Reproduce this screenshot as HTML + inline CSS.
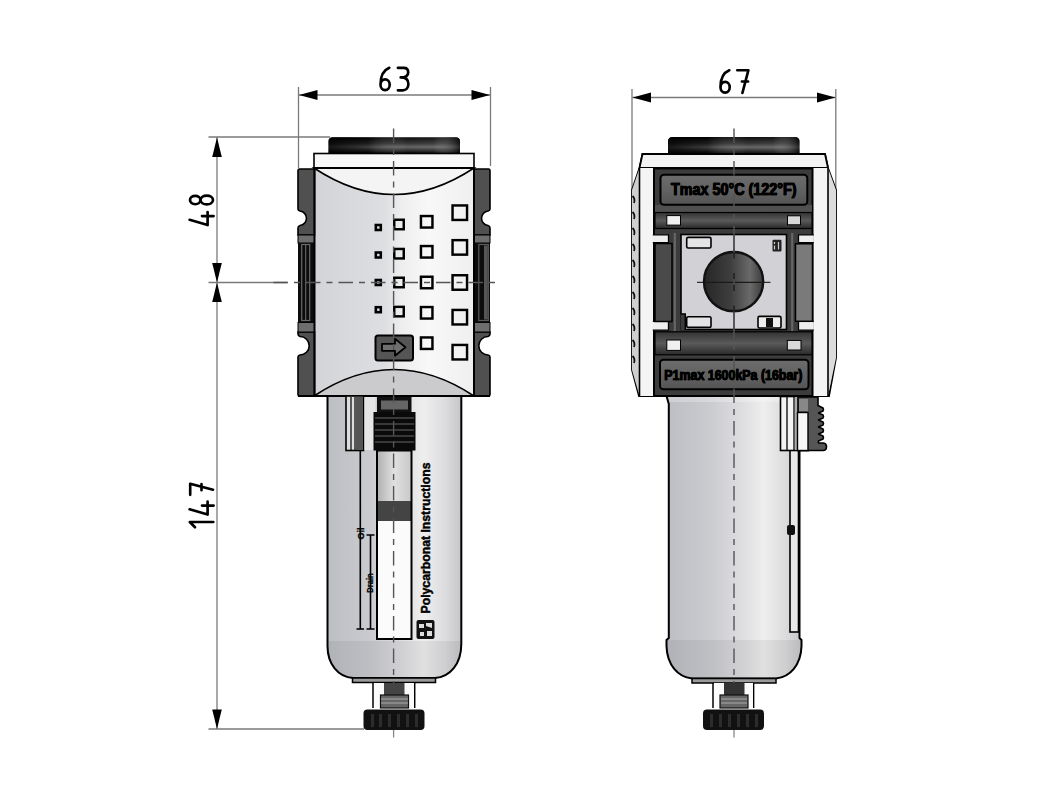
<!DOCTYPE html>
<html><head><meta charset="utf-8"><style>
html,body{margin:0;padding:0;background:#fff;}
body{width:1051px;height:803px;overflow:hidden;font-family:"Liberation Sans",sans-serif;}
svg{display:block;}
</style></head><body>
<svg width="1051" height="803" viewBox="0 0 1051 803">
<defs>
<linearGradient id="capG" x1="0" y1="0" x2="0" y2="1">
 <stop offset="0" stop-color="#000"/><stop offset="0.15" stop-color="#111"/><stop offset="0.4" stop-color="#2e2e2e"/><stop offset="0.62" stop-color="#5e5e5e"/><stop offset="0.82" stop-color="#2a2a2a"/><stop offset="1" stop-color="#000"/>
</linearGradient>
<linearGradient id="capH" x1="0" y1="0" x2="1" y2="0">
 <stop offset="0" stop-color="#000" stop-opacity="0.75"/><stop offset="0.3" stop-color="#000" stop-opacity="0.35"/><stop offset="0.6" stop-color="#fff" stop-opacity="0.05"/><stop offset="0.8" stop-color="#fff" stop-opacity="0.08"/><stop offset="1" stop-color="#000" stop-opacity="0.6"/>
</linearGradient>
<linearGradient id="panelG" x1="0" y1="0" x2="1" y2="0">
 <stop offset="0" stop-color="#d2d4d7"/><stop offset="0.44" stop-color="#dddee1"/><stop offset="0.55" stop-color="#eeeeef"/><stop offset="0.72" stop-color="#f8f8f8"/><stop offset="1" stop-color="#efefef"/>
</linearGradient>
<linearGradient id="bowlG" x1="0" y1="0" x2="1" y2="0">
 <stop offset="0" stop-color="#bcbec3"/><stop offset="0.3" stop-color="#c9cace"/><stop offset="0.55" stop-color="#dddde0"/><stop offset="0.72" stop-color="#eeeeee"/><stop offset="0.88" stop-color="#dcdcde"/><stop offset="1" stop-color="#c6c6c8"/>
</linearGradient>
<linearGradient id="tubeG" x1="0" y1="0" x2="1" y2="0">
 <stop offset="0" stop-color="#b0b0b0"/><stop offset="0.5" stop-color="#e0e0e0"/><stop offset="1" stop-color="#c8c8c8"/>
</linearGradient>
<linearGradient id="portG" x1="0" y1="0" x2="1" y2="0">
 <stop offset="0" stop-color="#262626"/><stop offset="0.45" stop-color="#3e3e3e"/><stop offset="0.78" stop-color="#6a6a6a"/><stop offset="1" stop-color="#3a3a3a"/>
</linearGradient>
<linearGradient id="labelG" x1="0" y1="0" x2="0" y2="1">
 <stop offset="0" stop-color="#6c6c6c"/><stop offset="0.5" stop-color="#626262"/><stop offset="1" stop-color="#545454"/>
</linearGradient>
<linearGradient id="barG" x1="0" y1="0" x2="0" y2="1">
 <stop offset="0" stop-color="#333"/><stop offset="0.5" stop-color="#5a5a5a"/><stop offset="1" stop-color="#2a2a2a"/>
</linearGradient>
</defs>
<line x1="298.5" y1="87" x2="298.5" y2="168" stroke="#7a7a7a" stroke-width="1.3" />
<line x1="490.5" y1="87" x2="490.5" y2="166" stroke="#7a7a7a" stroke-width="1.3" />
<line x1="299" y1="95" x2="490" y2="95" stroke="#7a7a7a" stroke-width="1.3" />
<path d="M299,95 L317.5,90.1 L317.5,99.9 Z" fill="#000"/>
<path d="M490,95 L471.5,99.9 L471.5,90.1 Z" fill="#000"/>
<g transform="translate(378.5,66.5)" fill="none" stroke="#000" stroke-width="2.65" stroke-linecap="round" stroke-linejoin="round"><path transform="translate(0,0)" d="M10.8,1.3 C5.5,3.5 2,9.5 2,18 M6.6,12.8 C4,12.8 2,15 2,18.2 C2,21.4 4,23.6 6.6,23.6 C9.2,23.6 11.2,21.4 11.2,18.2 C11.2,15 9.2,12.8 6.6,12.8 Z"/><path transform="translate(17.7,0)" d="M1.7,1.3 H7.5 C10.5,1.3 12,3.3 12,5.9 C12,8.9 9.8,10.9 4.5,10.9 C9.5,10.9 12.2,13.5 12.2,17.5 C12.2,21.5 9.8,23.8 6.5,23.8 H1.7"/></g>
<line x1="208.5" y1="137" x2="330" y2="137" stroke="#7a7a7a" stroke-width="1.3" />
<line x1="208.5" y1="729" x2="364" y2="729" stroke="#7a7a7a" stroke-width="1.3" />
<line x1="217" y1="137" x2="217" y2="729" stroke="#7a7a7a" stroke-width="1.3" />
<path d="M217,137.5 L221.8,157.0 L212.2,157.0 Z" fill="#000"/>
<path d="M217,282.5 L212.2,263.0 L221.8,263.0 Z" fill="#000"/>
<path d="M217,282.5 L221.8,302.0 L212.2,302.0 Z" fill="#000"/>
<path d="M217,729 L212.2,709.5 L221.8,709.5 Z" fill="#000"/>
<g transform="translate(189,226) rotate(-90)" fill="none" stroke="#000" stroke-width="2.65" stroke-linecap="round" stroke-linejoin="round"><path transform="translate(0,0)" d="M6.2,0.6 L0.9,18.6 H14 M9.9,13 V24.6"/><path transform="translate(20,0)" d="M6,1 C3.6,1 1.8,3.3 1.8,6.2 C1.8,9.1 3.6,11.4 6,11.4 C8.4,11.4 10.2,9.1 10.2,6.2 C10.2,3.3 8.4,1 6,1 Z M6,11.6 C3.4,11.6 1.6,14.4 1.6,17.8 C1.6,21.2 3.4,24 6,24 C8.6,24 10.4,21.2 10.4,17.8 C10.4,14.4 8.6,11.6 6,11.6 Z"/></g>
<g transform="translate(189,529) rotate(-90)" fill="none" stroke="#000" stroke-width="2.65" stroke-linecap="round" stroke-linejoin="round"><path transform="translate(0,0)" d="M1.7,6 L7,0.8 V24.3"/><path transform="translate(13.5,0)" d="M6.2,0.6 L0.9,18.6 H14 M9.9,13 V24.6"/><path transform="translate(33,0)" d="M1.2,1.2 H12.3 L6.3,24 M5.8,12.5 H12"/></g>
<path d="M328.5,153 V141.5 Q328.5,137.3 333,137.3 H455.5 Q460,137.3 460,141.5 V153 Z" fill="url(#capG)"/>
<path d="M328.5,153 V141.5 Q328.5,137.3 333,137.3 H455.5 Q460,137.3 460,141.5 V153 Z" fill="url(#capH)"/>
<rect x="314" y="153.5" width="160" height="14.5" fill="#f8f8f8" stroke="#000" stroke-width="1.6"/>
<rect x="314" y="168" width="160" height="228" fill="url(#panelG)"/>
<path d="M314,168 Q394,221 474,168 Z" fill="#f4f4f4" stroke="#000" stroke-width="1.5"/>
<path d="M314,396 Q394,343 474,396 Z" fill="#cbcbcd" stroke="#000" stroke-width="1.5"/>
<line x1="314" y1="168" x2="474" y2="168" stroke="#000" stroke-width="2.2" />
<path d="M314.5,169 H299.5 Q298,169 298,170.5 V209 Q298,210.5 300,211 A7.3,7.3 0 0 1 300,225.5 Q298,226 298,228 V235 H314.5 Z" fill="#505050" stroke="#000" stroke-width="1.6"/>
<path d="M314.5,396 H299.5 Q298,396 298,394.5 V357 Q298,355.5 300,355 A7.3,7.3 0 0 0 300,336.5 Q298,336 298,334 V332 H314.5 Z" fill="#505050" stroke="#000" stroke-width="1.6"/>
<rect x="298" y="235" width="16.5" height="8" fill="#6e6e6e" stroke="#000" stroke-width="1"/>
<rect x="298" y="322.5" width="16.5" height="9.5" fill="#6e6e6e" stroke="#000" stroke-width="1"/>
<rect x="298" y="243" width="16.5" height="79.5" fill="#0c0c0c"/>
<rect x="301.7" y="244.5" width="8" height="76" fill="none" stroke="#6a6a6a" stroke-width="1.2"/>
<line x1="305.7" y1="245" x2="305.7" y2="320" stroke="#6a6a6a" stroke-width="1.1" />
<path d="M474,169 H488.5 Q490,169 490,170.5 V209 Q490,210.5 488,211 A7.3,7.3 0 0 0 488,225.5 Q490,226 490,228 V235 H474 Z" fill="#505050" stroke="#000" stroke-width="1.6"/>
<path d="M474,396 H488.5 Q490,396 490,394.5 V357 Q490,355.5 488,355 A7.3,7.3 0 0 1 488,336.5 Q490,336 490,334 V332 H474 Z" fill="#505050" stroke="#000" stroke-width="1.6"/>
<rect x="474" y="235" width="16" height="8" fill="#6e6e6e" stroke="#000" stroke-width="1"/>
<rect x="474" y="322.5" width="16" height="9.5" fill="#6e6e6e" stroke="#000" stroke-width="1"/>
<rect x="474" y="243" width="16" height="79.5" fill="#0c0c0c"/>
<rect x="478.8" y="244.5" width="9.5" height="76" fill="#0c0c0c" stroke="#5a5a5a" stroke-width="1.2"/>
<rect x="484" y="245.5" width="3.8" height="74" fill="#555"/>
<line x1="314.5" y1="168" x2="314.5" y2="396" stroke="#000" stroke-width="2" />
<line x1="474" y1="168" x2="474" y2="396" stroke="#000" stroke-width="2" />
<line x1="298" y1="396" x2="490" y2="396" stroke="#000" stroke-width="2" />
<rect x="375.8" y="225.0" width="5" height="5" fill="none" stroke="#000" stroke-width="2.55"/>
<rect x="394.25" y="219.75" width="9.5" height="9.5" fill="none" stroke="#000" stroke-width="2.45"/>
<rect x="420.95" y="216.05" width="11.5" height="11.5" fill="none" stroke="#000" stroke-width="2.45"/>
<rect x="452.55" y="205.45" width="14.5" height="14.5" fill="none" stroke="#000" stroke-width="2.45"/>
<rect x="375.8" y="252.5" width="5" height="5" fill="none" stroke="#000" stroke-width="2.55"/>
<rect x="394.25" y="248.95" width="9.5" height="9.5" fill="none" stroke="#000" stroke-width="2.45"/>
<rect x="420.95" y="246.05" width="11.5" height="11.5" fill="none" stroke="#000" stroke-width="2.45"/>
<rect x="452.55" y="240.15" width="14.5" height="14.5" fill="none" stroke="#000" stroke-width="2.45"/>
<rect x="375.8" y="280.0" width="5" height="5" fill="none" stroke="#000" stroke-width="2.55"/>
<rect x="394.25" y="277.75" width="9.5" height="9.5" fill="none" stroke="#000" stroke-width="2.45"/>
<rect x="420.95" y="276.75" width="11.5" height="11.5" fill="none" stroke="#000" stroke-width="2.45"/>
<rect x="452.55" y="275.25" width="14.5" height="14.5" fill="none" stroke="#000" stroke-width="2.45"/>
<rect x="375.8" y="307.2" width="5" height="5" fill="none" stroke="#000" stroke-width="2.55"/>
<rect x="394.25" y="306.85" width="9.5" height="9.5" fill="none" stroke="#000" stroke-width="2.45"/>
<rect x="420.95" y="307.05" width="11.5" height="11.5" fill="none" stroke="#000" stroke-width="2.45"/>
<rect x="452.55" y="309.95" width="14.5" height="14.5" fill="none" stroke="#000" stroke-width="2.45"/>
<rect x="420.95" y="337.45" width="11.5" height="11.5" fill="none" stroke="#000" stroke-width="2.45"/>
<rect x="452.55" y="344.95" width="14.5" height="14.5" fill="none" stroke="#000" stroke-width="2.45"/>
<rect x="375.5" y="335.5" width="37.5" height="25" rx="2.5" fill="#555" stroke="#000" stroke-width="2"/>
<path d="M382,343.8 H395 V338.8 L405.5,347.3 L395,355.8 V350.8 H382 Z" fill="#6e6e6e" stroke="#000" stroke-width="1.8" stroke-linejoin="round"/>
<line x1="208.5" y1="282.5" x2="287" y2="282.5" stroke="#7a7a7a" stroke-width="1.3" />
<line x1="273.5" y1="282.5" x2="497" y2="282.5" stroke="#555" stroke-width="1.4" stroke-dasharray="14.5 6 6 6"/>
<clipPath id="bclipL"><path d="M327.5,396 V646 C327.5,664 338,677 353,678 H435 C450,677 461.3,664 461.3,644 V396 Z"/></clipPath>
<path d="M327.5,396 V646 C327.5,664 338,677 353,678 H435 C450,677 461.3,664 461.3,644 V396 Z" fill="url(#bowlG)"/>
<rect x="320" y="641" width="150" height="40" fill="#000" opacity="0.06" clip-path="url(#bclipL)"/>
<path d="M327.5,396 V646 C327.5,664 338,677 353,678 H435 C450,677 461.3,664 461.3,644 V396 Z" fill="none" stroke="#000" stroke-width="2"/>
<path d="M352.5,678 H435.5 V682.5 H352.5 Z" fill="#9a9a9a" stroke="#000" stroke-width="1.5"/>
<rect x="346" y="396" width="17.5" height="54.5" fill="#ddd" stroke="#000" stroke-width="1.6"/>
<line x1="351" y1="397" x2="351" y2="450" stroke="#000" stroke-width="1.2" />
<line x1="355" y1="397" x2="355" y2="450" stroke="#000" stroke-width="1.2" />
<rect x="356" y="397" width="7" height="53" fill="#555"/>
<line x1="360.3" y1="450" x2="360.3" y2="629" stroke="#000" stroke-width="1.6" />
<line x1="370.5" y1="535" x2="370.5" y2="629" stroke="#000" stroke-width="1.6" />
<path d="M366.5,535 H374.5 M366.5,629 H374.5 M356.5,629 H364" stroke="#000" stroke-width="1.6"/>
<rect x="364.5" y="397" width="11" height="53" fill="#e6e6e6" />
<rect x="377" y="450.5" width="34.5" height="50.5" fill="url(#tubeG)"/>
<rect x="377" y="501" width="34.5" height="20" fill="#444"/>
<rect x="377" y="521" width="34.5" height="118" fill="#fbfbfb"/>
<rect x="377" y="450.5" width="34.5" height="188.5" fill="none" stroke="#000" stroke-width="2"/>
<rect x="377" y="397" width="34.5" height="15.5" fill="#111"/>
<rect x="381" y="400.5" width="27" height="9" fill="#666"/>
<rect x="373.5" y="412" width="42" height="38.5" fill="#0a0a0a"/>
<line x1="375" y1="418" x2="414" y2="418" stroke="#666" stroke-width="1.0" />
<line x1="375" y1="424" x2="414" y2="424" stroke="#666" stroke-width="1.0" />
<line x1="375" y1="430" x2="414" y2="430" stroke="#666" stroke-width="1.0" />
<line x1="375" y1="436" x2="414" y2="436" stroke="#666" stroke-width="1.0" />
<line x1="375" y1="442" x2="414" y2="442" stroke="#666" stroke-width="1.0" />
<text transform="translate(430.3,613.5) rotate(-90)" font-family="Liberation Sans, sans-serif" font-weight="bold" font-size="12.3" textLength="151" lengthAdjust="spacingAndGlyphs" fill="#000" stroke="#000" stroke-width="0.45">Polycarbonat Instructions</text>
<text transform="translate(363.5,539.5) rotate(-90)" font-family="Liberation Sans, sans-serif" font-weight="bold" font-size="8.5" textLength="12" lengthAdjust="spacingAndGlyphs" fill="#000" stroke="#000" stroke-width="0.3">Oil</text>
<text transform="translate(372.8,592.8) rotate(-90)" font-family="Liberation Sans, sans-serif" font-weight="bold" font-size="9" textLength="19.5" lengthAdjust="spacingAndGlyphs" fill="#000" stroke="#000" stroke-width="0.3">Drain</text>
<rect x="416.5" y="620" width="18" height="19" rx="2" fill="#111"/>
<path d="M419,624 h5 v4 h-5z M426,623 l6,0 l0,5 l-6,-2z M420,632 h4 v4 h-4z M427,631 h5 v5 h-5z" fill="#ddd"/>
<line x1="393.6" y1="128.5" x2="393.6" y2="730" stroke="#555" stroke-width="1.4" stroke-dasharray="14.5 6 6 6"/>
<line x1="393.6" y1="729" x2="393.6" y2="737.5" stroke="#888" stroke-width="1.3" />
<line x1="373" y1="683" x2="373" y2="708" stroke="#000" stroke-width="1.5" />
<line x1="414.7" y1="683" x2="414.7" y2="708" stroke="#000" stroke-width="1.5" />
<rect x="374" y="683" width="40" height="25" fill="#fbfbfb"/>
<rect x="384" y="683" width="20.5" height="12" fill="#444"/>
<rect x="380.5" y="695" width="28" height="13" fill="#666" stroke="#111" stroke-width="1.2"/>
<line x1="381" y1="699" x2="408" y2="699" stroke="#aaa" stroke-width="1" />
<line x1="381" y1="703" x2="408" y2="703" stroke="#aaa" stroke-width="1" />
<rect x="363.5" y="709.5" width="61" height="20.5" rx="4" fill="#111"/>
<rect x="371" y="714" width="3" height="13" fill="#2c2c2c"/>
<rect x="379" y="714" width="3" height="13" fill="#2c2c2c"/>
<rect x="388" y="714" width="3" height="13" fill="#2c2c2c"/>
<rect x="397" y="714" width="3" height="13" fill="#2c2c2c"/>
<rect x="406" y="714" width="3" height="13" fill="#2c2c2c"/>
<rect x="415" y="714" width="3" height="13" fill="#2c2c2c"/>
<line x1="632" y1="89" x2="632" y2="190" stroke="#7a7a7a" stroke-width="1.3" />
<line x1="835.8" y1="89" x2="835.8" y2="190" stroke="#7a7a7a" stroke-width="1.3" />
<line x1="632.5" y1="97.5" x2="835.5" y2="97.5" stroke="#7a7a7a" stroke-width="1.3" />
<path d="M632.5,97.5 L651.0,92.6 L651.0,102.4 Z" fill="#000"/>
<path d="M835.5,97.5 L817.0,102.4 L817.0,92.6 Z" fill="#000"/>
<g transform="translate(718.5,69)" fill="none" stroke="#000" stroke-width="2.65" stroke-linecap="round" stroke-linejoin="round"><path transform="translate(0,0)" d="M10.8,1.3 C5.5,3.5 2,9.5 2,18 M6.6,12.8 C4,12.8 2,15 2,18.2 C2,21.4 4,23.6 6.6,23.6 C9.2,23.6 11.2,21.4 11.2,18.2 C11.2,15 9.2,12.8 6.6,12.8 Z"/><path transform="translate(17.6,0)" d="M1.2,1.2 H12.3 L6.3,24 M5.8,12.5 H12"/></g>
<path d="M668,153.5 V141.5 Q668,137 672.5,137 H795 Q799.5,137 799.5,141.5 V153.5 Z" fill="url(#capG)"/>
<path d="M668,153.5 V141.5 Q668,137 672.5,137 H795 Q799.5,137 799.5,141.5 V153.5 Z" fill="url(#capH)"/>
<path d="M642.5,154 H825 L828,168 L836,190 V358 L829,396 H639 L632,370 V190 L639.5,168 Z" fill="#d8d8d8" stroke="#000" stroke-width="1.8"/>
<path d="M642.5,154 H825 L828,168 H639.5 Z" fill="#f2f2f2" stroke="#000" stroke-width="1.8"/>
<rect x="639.5" y="168" width="188.5" height="228" fill="#f4f4f4"/>
<path d="M632,190 L639.5,168 V396 L632,370 Z" fill="#cfcfcf"/>
<path d="M632.5,196 Q635.5,199 634,203" fill="none" stroke="#111" stroke-width="1.8"/>
<path d="M632.5,212 Q635.5,215 634,219" fill="none" stroke="#111" stroke-width="1.8"/>
<path d="M632.5,228 Q635.5,231 634,235" fill="none" stroke="#111" stroke-width="1.8"/>
<path d="M632.5,244 Q635.5,247 634,251" fill="none" stroke="#111" stroke-width="1.8"/>
<path d="M632.5,260 Q635.5,263 634,267" fill="none" stroke="#111" stroke-width="1.8"/>
<path d="M632.5,276 Q635.5,279 634,283" fill="none" stroke="#111" stroke-width="1.8"/>
<path d="M632.5,292 Q635.5,295 634,299" fill="none" stroke="#111" stroke-width="1.8"/>
<path d="M632.5,308 Q635.5,311 634,315" fill="none" stroke="#111" stroke-width="1.8"/>
<path d="M632.5,324 Q635.5,327 634,331" fill="none" stroke="#111" stroke-width="1.8"/>
<path d="M632.5,340 Q635.5,343 634,347" fill="none" stroke="#111" stroke-width="1.8"/>
<path d="M632.5,356 Q635.5,359 634,363" fill="none" stroke="#111" stroke-width="1.8"/>
<path d="M836,190 L828,168 V396 L836,358 Z" fill="#dcdcdc"/>
<line x1="639.5" y1="168" x2="639.5" y2="396" stroke="#000" stroke-width="1.6" />
<line x1="828" y1="168" x2="828" y2="396" stroke="#000" stroke-width="1.6" />
<rect x="654" y="168.5" width="158.5" height="227.5" fill="#3c3c3c" stroke="#000" stroke-width="2"/>
<rect x="655" y="205" width="157" height="7" fill="#505050"/>
<rect x="660.5" y="174.8" width="146.8" height="30" rx="3.5" fill="url(#labelG)" stroke="#000" stroke-width="2"/>
<text x="671" y="194.5" font-family="Liberation Sans, sans-serif" font-weight="bold" font-size="15.8" textLength="125.5" lengthAdjust="spacingAndGlyphs" fill="#000" stroke="#000" stroke-width="0.7">Tmax 50°C (122°F)</text>
<rect x="655" y="212.5" width="157" height="16" fill="url(#barG)" stroke="#000" stroke-width="1.2"/>
<rect x="666.8" y="215.6" width="13.7" height="9.5" fill="#f0f0f0" stroke="#000" stroke-width="1"/>
<rect x="787.5" y="215.8" width="13" height="9" fill="#d8d8d8" stroke="#000" stroke-width="1"/>
<path d="M652.8,234.8 H668.5 V242.6 H652.8" fill="#eee" stroke="#000" stroke-width="1.3"/>
<path d="M652.8,321.3 H668.5 V330.2 H652.8" fill="#eee" stroke="#000" stroke-width="1.3"/>
<path d="M813.8,234.8 H798.5 V242.6 H813.8" fill="#eee" stroke="#000" stroke-width="1.3"/>
<path d="M813.8,321.3 H798.5 V330.2 H813.8" fill="#eee" stroke="#000" stroke-width="1.3"/>
<line x1="674.8" y1="233" x2="674.8" y2="331" stroke="#666" stroke-width="2.2" />
<line x1="792.2" y1="233" x2="792.2" y2="331" stroke="#666" stroke-width="2.2" />
<rect x="655" y="243.5" width="17" height="78" fill="#4a4a4a" stroke="#000" stroke-width="1.5"/>
<rect x="795.5" y="243.8" width="17" height="77.5" fill="#7a7a7a" stroke="#000" stroke-width="1.5"/>
<rect x="681" y="234.5" width="105.5" height="95" fill="#d2d2d6" stroke="#000" stroke-width="1.6"/>
<rect x="686.7" y="237.4" width="24.3" height="10.6" rx="1.5" fill="#e4e4e6" stroke="#000" stroke-width="1.6"/>
<rect x="680.5" y="314" width="5" height="16" fill="#3c3c3c"/>
<path d="M681,314 H685.3 V330" fill="none" stroke="#000" stroke-width="1.4"/>
<rect x="686.7" y="316.8" width="24.3" height="10.6" rx="1.5" fill="#e4e4e6" stroke="#000" stroke-width="1.6"/>
<rect x="772.5" y="239.7" width="9" height="11.7" rx="1" fill="#222"/>
<path d="M774.5,242 v2 M774.5,245.5 v4 M778.5,242 v7.5" stroke="#ccc" stroke-width="1.2"/>
<rect x="758" y="316.4" width="23" height="11.6" rx="1.5" fill="#eee" stroke="#000" stroke-width="1.6"/>
<rect x="766" y="318" width="7" height="9" fill="#111"/>
<line x1="697" y1="282.3" x2="770.5" y2="282.3" stroke="#333" stroke-width="1.3" />
<circle cx="733.6" cy="281.6" r="29.6" fill="url(#portG)" stroke="#111" stroke-width="2.4"/>
<line x1="704" y1="282.3" x2="764" y2="282.3" stroke="#1a1a1a" stroke-width="1.3" />
<line x1="734" y1="235" x2="734" y2="329.5" stroke="#1a1a1a" stroke-width="1.3" />
<rect x="655" y="331.8" width="157" height="23" fill="url(#barG)" stroke="#000" stroke-width="1.2"/>
<rect x="666.8" y="340" width="13.7" height="10.4" fill="#f0f0f0" stroke="#000" stroke-width="1"/>
<rect x="787.3" y="340.4" width="13.7" height="9.6" fill="#d8d8d8" stroke="#000" stroke-width="1"/>
<rect x="660" y="359.8" width="148.5" height="29.5" rx="3.5" fill="url(#labelG)" stroke="#000" stroke-width="2"/>
<text x="664.3" y="380" font-family="Liberation Sans, sans-serif" font-weight="bold" font-size="15" textLength="138" lengthAdjust="spacingAndGlyphs" fill="#000" stroke="#000" stroke-width="0.7">P1max 1600kPa (16bar)</text>
<line x1="654" y1="396" x2="812" y2="396" stroke="#000" stroke-width="2.2" />
<clipPath id="bclipR"><path d="M666.5,396 L668.8,404 V638 L666.5,640 V646 C667,665 678,677 692,678.5 H776 C790,677 801,665 801.5,646 V640 L799.5,638 V396 Z"/></clipPath>
<path d="M666.5,396 L668.8,404 V638 L666.5,640 V646 C667,665 678,677 692,678.5 H776 C790,677 801,665 801.5,646 V640 L799.5,638 V396 Z" fill="url(#bowlG)"/>
<rect x="660" y="640" width="150" height="40" fill="#000" opacity="0.06" clip-path="url(#bclipR)"/>
<rect x="660" y="396" width="150" height="6" fill="#fff" opacity="0.25" clip-path="url(#bclipR)"/>
<path d="M666.5,396 L668.8,404 V638 L666.5,640 V646 C667,665 678,677 692,678.5 H776 C790,677 801,665 801.5,646 V640 L799.5,638 V396 Z" fill="none" stroke="#000" stroke-width="2"/>
<path d="M692,678.5 H776 V683 H692 Z" fill="#9a9a9a" stroke="#000" stroke-width="1.5"/>
<rect x="790" y="450" width="8.5" height="182" fill="#e8e8e8" stroke="#000" stroke-width="1.6"/>
<rect x="787" y="525" width="8" height="10" rx="2" fill="#111"/>
<rect x="780.5" y="396.5" width="28" height="54" fill="#f3f3f3" stroke="#000" stroke-width="1.6"/>
<line x1="787" y1="397" x2="787" y2="450" stroke="#000" stroke-width="1.3" />
<line x1="794" y1="397" x2="794" y2="450" stroke="#000" stroke-width="1.3" />
<rect x="795" y="397" width="3" height="53" fill="#aaa"/>
<path d="M798,397 H818 V405.5 L823,408.0 Q824,409.5 823,411.0 L818.5,413.0 L823,415.0 Q824,416.5 823,418.0 L818.5,420.0 L823,422.0 Q824,423.5 823,425.0 L818.5,427.0 L823,429.0 Q824,430.5 823,432.0 L818.5,434.0 L823,436.0 Q824,437.5 823,439.0 L818.5,441.0 V443 H823.5 Q826.5,443.5 826.5,446.5 Q826.5,450.5 823,450.5 H798 Z" fill="#555" stroke="#000" stroke-width="1.6" stroke-linejoin="round"/>
<rect x="797.5" y="412.5" width="10.5" height="38" fill="#f6f6f6" stroke="#000" stroke-width="1.4"/>
<rect x="799" y="399" width="9" height="12" fill="#888"/>
<line x1="734" y1="128.5" x2="734" y2="730" stroke="#555" stroke-width="1.4" stroke-dasharray="14.5 6 6 6"/>
<line x1="734" y1="729" x2="734" y2="737.5" stroke="#888" stroke-width="1.3" />
<text x="671" y="194.5" font-family="Liberation Sans, sans-serif" font-weight="bold" font-size="15.8" textLength="125.5" lengthAdjust="spacingAndGlyphs" fill="#000" stroke="#000" stroke-width="0.7">Tmax 50°C (122°F)</text>
<text x="664.3" y="380" font-family="Liberation Sans, sans-serif" font-weight="bold" font-size="15" textLength="138" lengthAdjust="spacingAndGlyphs" fill="#000" stroke="#000" stroke-width="0.7">P1max 1600kPa (16bar)</text>
<line x1="713" y1="683" x2="713" y2="708" stroke="#000" stroke-width="1.5" />
<line x1="753.6" y1="683" x2="753.6" y2="708" stroke="#000" stroke-width="1.5" />
<rect x="714" y="683" width="39" height="25" fill="#fbfbfb"/>
<rect x="724" y="683" width="20.5" height="12" fill="#333"/>
<rect x="720" y="695" width="28" height="13" fill="#666" stroke="#111" stroke-width="1.2"/>
<line x1="721" y1="699" x2="747" y2="699" stroke="#aaa" stroke-width="1" />
<line x1="721" y1="703" x2="747" y2="703" stroke="#aaa" stroke-width="1" />
<rect x="703" y="709.5" width="61" height="20.5" rx="4" fill="#111"/>
<rect x="710" y="714" width="3" height="13" fill="#2c2c2c"/>
<rect x="719" y="714" width="3" height="13" fill="#2c2c2c"/>
<rect x="728" y="714" width="3" height="13" fill="#2c2c2c"/>
<rect x="737" y="714" width="3" height="13" fill="#2c2c2c"/>
<rect x="746" y="714" width="3" height="13" fill="#2c2c2c"/>
<rect x="755" y="714" width="3" height="13" fill="#2c2c2c"/>
</svg>
</body></html>
